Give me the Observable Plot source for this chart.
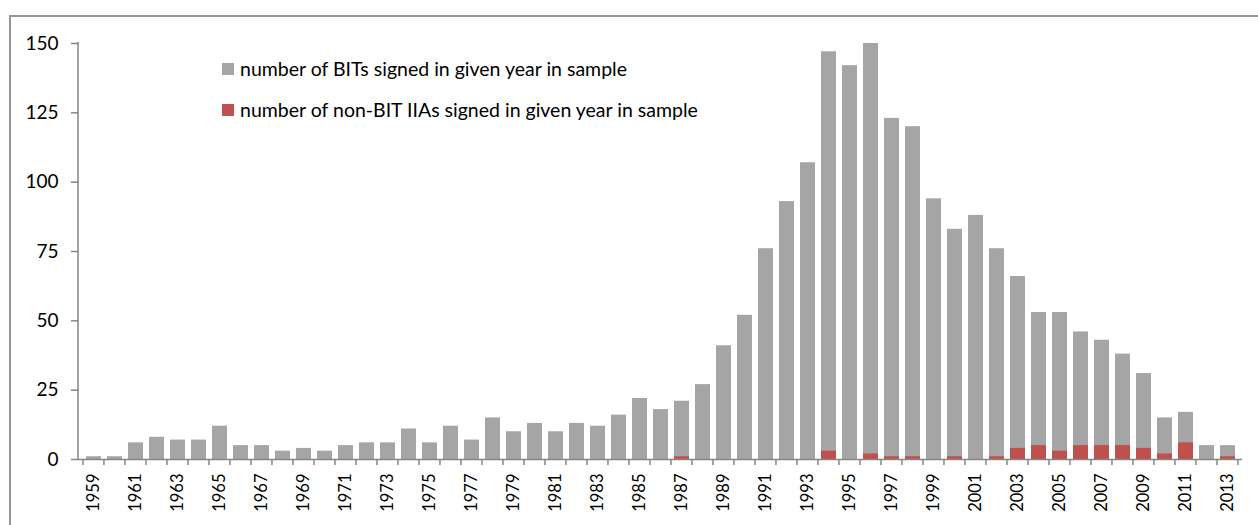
<!DOCTYPE html>
<html>
<head>
<meta charset="utf-8">
<script src="https://cdn.jsdelivr.net/npm/d3@7"></script>
<script src="https://cdn.jsdelivr.net/npm/@observablehq/plot@0.6"></script>
<style>
html, body { margin: 0; padding: 0; background: #fff; overflow: hidden; }
#wrap { position: relative; width: 1258px; height: 525px; overflow: hidden; font-family: Lato, "Open Sans", sans-serif; }
#border { position: absolute; left: 9px; top: 15px; width: 1400px; height: 700px; border: 2px solid #969696; box-sizing: border-box; }
#chart { position: absolute; left: 0; top: 0; }
.legend { position: absolute; left: 222px; height: 22px; line-height: 22px; font-size: 19.5px; color: #000; display: flex; align-items: center; white-space: nowrap; }
.sw { width: 12px; height: 12px; margin-right: 6px; flex: none; }
</style>
</head>
<body>
<div id="wrap">
  <div id="border"></div>
  <div id="chart"></div>
</div>
<script>
// ---- data ----
const years = [1959,1960,1961,1962,1963,1964,1965,1966,1967,1968,
               1969,1970,1971,1972,1973,1974,1975,1976,1977,1978,
               1979,1980,1981,1982,1983,1984,1985,1986,1987,1988,
               1989,1990,1991,1992,1993,1994,1995,1996,1997,1998,
               1999,2000,2001,2002,2003,2004,2005,2006,2007,2008,
               2009,2010,2011,2012,2013];
const bits = [1,1,6,8,7,7,12,5,5,3,
              4,3,5,6,6,11,6,12,7,15,
              10,13,10,13,12,16,22,18,21,27,
              41,52,76,93,107,147,142,150,123,120,
              94,83,88,76,66,53,53,46,43,38,
              31,15,17,5,5];
const nonBits = [0,0,0,0,0,0,0,0,0,0,
                 0,0,0,0,0,0,0,0,0,0,
                 0,0,0,0,0,0,0,0,1,0,
                 0,0,0,0,0,3,0,2,1,1,
                 0,1,0,1,4,5,3,5,5,5,
                 4,2,6,0,1];
const seriesNames = ["number of BITs signed in given year in sample",
                     "number of non-BIT IIAs signed in given year in sample"];
const seriesColors = ["#a5a5a5", "#c0504d"];
const yTicks = [0, 25, 50, 75, 100, 125, 150];
const xTickLabels = [1959,1961,1963,1965,1967,1969,1971,1973,1975,1977,1979,1981,1983,1985,
                     1987,1989,1991,1993,1995,1997,1999,2001,2003,2005,2007,2009,2011,2013];

// ---- chart ----
const AXIS = "#868686";
const PAD_INNER = 0.29;
const bitData = years.map((year, i) => ({year, value: bits[i]}));
const nonBitData = years.map((year, i) => ({year, value: nonBits[i]}));

function categoryTicks(index, scales, values, dimensions) {
  const x = scales.x;
  const step = x(years[1]) - x(years[0]);
  const off = PAD_INNER * step / 2;
  const y0 = dimensions.height - dimensions.marginBottom;
  const g = d3.create("svg:g").attr("stroke", AXIS).attr("stroke-width", 1.5).attr("fill", "none");
  const bounds = years.map(yr => x(yr) - off).concat([x(years[years.length - 1]) + step - off]);
  g.selectAll("line.t").data(bounds).join("line").attr("class", "t")
    .attr("x1", d => d).attr("x2", d => d).attr("y1", y0).attr("y2", y0 + 6);
  g.append("line")
    .attr("x1", dimensions.marginLeft).attr("x2", dimensions.marginLeft)
    .attr("y1", dimensions.marginTop - 1).attr("y2", y0);
  return g.node();
}

const chart = Plot.plot({
  width: 1258,
  height: 525,
  marginLeft: 78,
  marginRight: 16,
  marginTop: 43,
  marginBottom: 66,
  style: {fontFamily: "Lato, 'Open Sans', sans-serif", fontSize: "18px", color: "#000", background: "transparent"},
  x: {type: "band", domain: years, paddingInner: PAD_INNER, paddingOuter: PAD_INNER / 2, axis: null},
  y: {domain: [0, 150], axis: null},
  marks: [
    Plot.barY(bitData, {x: "year", y: "value", fill: seriesColors[0]}),
    Plot.barY(nonBitData, {x: "year", y: "value", fill: seriesColors[1]}),
    Plot.ruleY([0], {stroke: AXIS, strokeWidth: 1.5}),
    categoryTicks,
    Plot.axisY(yTicks, {tickSize: 7, tickPadding: 13, stroke: AXIS, strokeWidth: 1.5, fill: "#000", fontSize: 19, label: null}),
    Plot.axisX(xTickLabels, {tickSize: 0, tickPadding: 14, tickRotate: -90, tickFormat: d => String(d), fill: "#000", fontSize: 16.5, label: null})
  ]
});
document.getElementById("chart").appendChild(chart);

// legend (inside plot area, top-left)
const wrap = document.getElementById("wrap");
const legendTops = [58, 99];
seriesNames.forEach((name, i) => {
  const item = document.createElement("div");
  item.className = "legend";
  item.style.top = legendTops[i] + "px";
  const sw = document.createElement("span");
  sw.className = "sw";
  sw.style.background = seriesColors[i];
  const label = document.createElement("span");
  label.textContent = name;
  item.appendChild(sw);
  item.appendChild(label);
  wrap.appendChild(item);
});
</script>
</body>
</html>
